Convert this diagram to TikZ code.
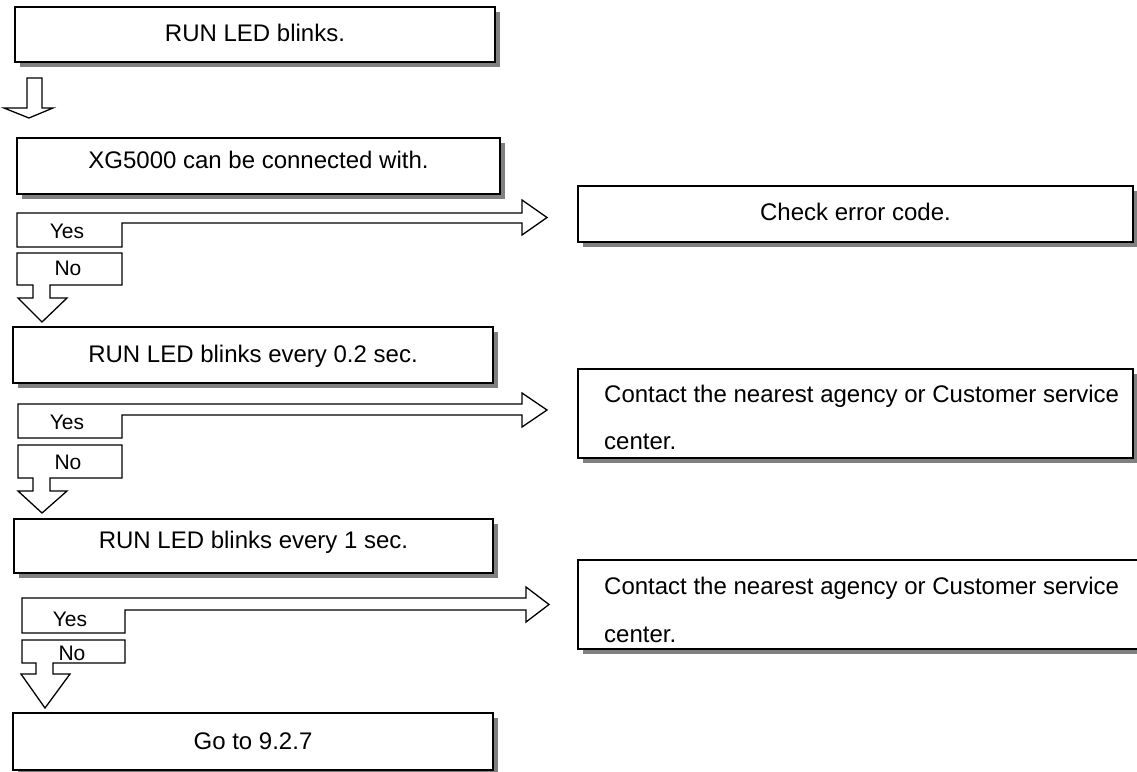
\documentclass[tikz,border=0pt]{standalone}
\usepackage{fontspec}
\setmainfont{Liberation Sans}
\usetikzlibrary{shadows}
\tikzset{
 mbox/.style={draw, line width=1.6pt, fill=white, inner sep=0pt,
   drop shadow={shadow xshift=5pt, shadow yshift=-5pt, fill=black!50, opacity=1},
   font=\fontsize{24}{28}\selectfont, text height=17.2pt},
 fat/.style={draw, line width=1.3pt, fill=white, line join=miter},
 yn/.style={inner sep=0pt, font=\fontsize{21}{24}\selectfont, text height=15pt, text depth=0pt},
 rtxt/.style={inner sep=0pt, anchor=base west, font=\fontsize{24}{28}\selectfont},
}
\begin{document}
\begin{tikzpicture}[x=1pt,y=-1pt]
\useasboundingbox (0,0) rectangle (1137,771);

% left column boxes
\node[mbox, minimum width=480pt, minimum height=55pt, text depth=3pt] (b1) at (255,34.5) {RUN LED blinks.};
\node[mbox, minimum width=483pt, minimum height=56pt, text depth=13pt] (b2) at (258.5,166) {XG5000 can be connected with.};
\node[mbox, minimum width=480pt, minimum height=56pt, text depth=3pt] (b3) at (253,355) {RUN LED blinks every 0.2 sec.};
\node[mbox, minimum width=479pt, minimum height=54pt, text depth=12pt] (b4) at (253.5,546) {RUN LED blinks every 1 sec.};
\node[mbox, minimum width=480pt, minimum height=57pt, text depth=2pt] (b5) at (253,741.5) {Go to 9.2.7};

% right column boxes
\node[mbox, minimum width=555pt, minimum height=56pt, text depth=5pt] (r1) at (855.5,214) {Check error code.};
\node[mbox, minimum width=555pt, minimum height=89pt] (r2) at (855.5,413.5) {};
\node[rtxt] (r2a) at (604,402) {Contact the nearest agency or Customer service};
\node[rtxt] (r2b) at (604,449) {center.};
\node[mbox, minimum width=582pt, minimum height=89pt] (r3) at (869,604.5) {};
\node[rtxt] (r3a) at (604,594) {Contact the nearest agency or Customer service};
\node[rtxt] (r3b) at (604,642) {center.};

% first down arrow
\path[fat] (27,78) -- (42,78) -- (42,108) -- (53,108) -- (29,118) -- (4,108) -- (27,108) -- cycle;

% decision 1
\path[fat] (17,213) -- (522,213) -- (522,200) -- (547,217.5) -- (522,235) -- (522,223) -- (122,223) -- (122,247) -- (17,247) -- cycle;
\node[yn] (y1) at (67,231) {Yes};
\path[fat] (17,253) -- (122,253) -- (122,285) -- (50,285) -- (50,298) -- (67,298) -- (42,322) -- (18,298) -- (33,298) -- (33,285) -- (17,285) -- cycle;
\node[yn] (n1) at (68,268) {No};

% decision 2
\path[fat] (18,404) -- (522,404) -- (522,393) -- (547,410) -- (522,427) -- (522,415) -- (122,415) -- (122,438) -- (18,438) -- cycle;
\node[yn] (y2) at (67,422) {Yes};
\path[fat] (18,445) -- (122,445) -- (122,478) -- (50,478) -- (50,491) -- (67,491) -- (42,513) -- (18,491) -- (33,491) -- (33,478) -- (18,478) -- cycle;
\node[yn] (n2) at (68,462) {No};

% decision 3
\path[fat] (22,598) -- (526,598) -- (526,587) -- (549,604.5) -- (526,622) -- (526,610) -- (125,610) -- (125,633) -- (22,633) -- cycle;
\node[yn] (y3) at (70,619) {Yes};
\path[fat] (22,640) -- (125,640) -- (125,663) -- (53,663) -- (53,674) -- (70,674) -- (45,708) -- (21,674) -- (36,674) -- (36,663) -- (22,663) -- cycle;
\node[yn] (n3) at (72,653) {No};
\end{tikzpicture}
\end{document}
